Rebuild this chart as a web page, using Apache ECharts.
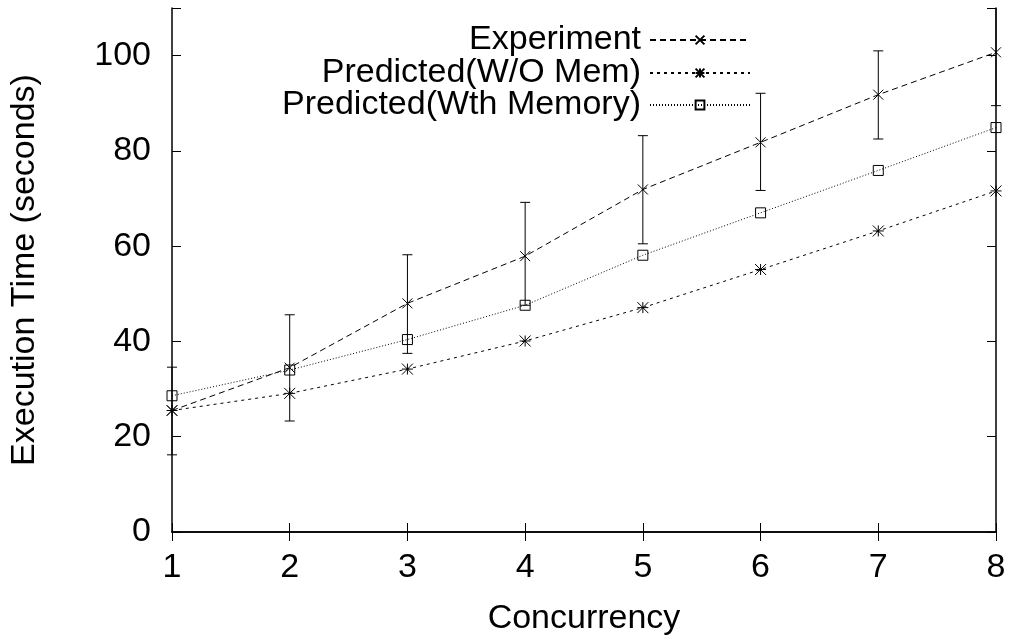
<!DOCTYPE html>
<html>
<head>
<meta charset="utf-8">
<script src="https://cdn.jsdelivr.net/npm/echarts@6/dist/echarts.min.js"></script>
<style>html,body{margin:0;padding:0;background:#fff}#c{width:1013px;height:641px}</style>
</head>
<body>
<div id="c"></div>
<script>
const concurrency = [1, 2, 3, 4, 5, 6, 7, 8];
const experiment = [25.5, 34.5, 48.0, 57.9, 71.9, 81.8, 91.8, 100.7];
const experimentLow = [16.2, 23.3, 37.5, 47.6, 60.5, 71.7, 82.5, 89.5];
const experimentHigh = [34.6, 45.6, 58.2, 69.2, 83.2, 92.1, 101.0, 111.9];
const predictedNoMem = [25.5, 29.1, 34.2, 40.1, 47.1, 55.1, 63.2, 71.6];
const predictedMem = [28.6, 34.0, 40.4, 47.6, 58.1, 67.0, 75.9, 84.9];
const seriesNames = ['Experiment', 'Predicted(W/O Mem)', 'Predicted(Wth Memory)'];
const yTicks = [0, 20, 40, 60, 80, 100];

const FONT = "'Liberation Sans', Arial, sans-serif";
const FS = 34;
const pairs = a => concurrency.map((x, i) => [x, a[i]]);
const xPath = 'path://M0,0L10,10M10,0L0,10';
const starPath = 'path://M0,0L10,10M10,0L0,10M5,0L5,10M0,5L10,5';

const chart = echarts.init(document.getElementById('c'));
const axisCommon = {
  type: 'value',
  axisLine: {show: true, lineStyle: {color: '#000', width: 1.5}},
  axisTick: {show: true, inside: true, length: 9, lineStyle: {color: '#000', width: 1}},
  splitLine: {show: false}
};
function legendFor(name, top) {
  return {
    data: [name], top: top, right: 257, orient: 'vertical', align: 'right',
    itemWidth: 100, itemHeight: 11, selectedMode: false,
    textStyle: {fontFamily: FONT, fontSize: FS, color: '#000', lineHeight: 32, padding: [0, 4, 0, 0]}
  };
}
chart.setOption({
  animation: false,
  backgroundColor: '#fff',
  grid: {left: 171, right: 17, top: 8, bottom: 109, containLabel: false},
  legend: [legendFor(seriesNames[0], 18), legendFor(seriesNames[1], 51), legendFor(seriesNames[2], 83)],
  xAxis: [
    Object.assign({}, axisCommon, {
      position: 'bottom', min: 1, max: 8, interval: 1,
      name: 'Concurrency', nameLocation: 'middle', nameGap: 70,
      nameTextStyle: {fontFamily: FONT, fontSize: FS, color: '#000'},
      axisLabel: {fontFamily: FONT, fontSize: FS, color: '#000', margin: 19}
    }),
    Object.assign({}, axisCommon, {
      position: 'top', min: 1, max: 8, interval: 1, axisLabel: {show: false}
    })
  ],
  yAxis: [
    Object.assign({}, axisCommon, {
      position: 'left', min: 0, max: 110, interval: 20,
      name: 'Execution Time (seconds)', nameLocation: 'middle', nameGap: 130,
      nameTextStyle: {fontFamily: FONT, fontSize: FS, color: '#000'},
      axisLabel: {fontFamily: FONT, fontSize: FS, color: '#000', margin: 21,
        formatter: v => yTicks.indexOf(v) >= 0 ? String(v) : ''}
    }),
    Object.assign({}, axisCommon, {
      position: 'right', min: 0, max: 110, interval: 20, axisLabel: {show: false}
    })
  ],
  series: [
    {
      name: seriesNames[0], type: 'line', data: pairs(experiment),
      symbol: xPath, symbolSize: 10,
      itemStyle: {color: '#000', borderColor: '#000', borderWidth: 1},
      lineStyle: {color: '#000', width: 1, type: [6, 4]}, z: 4
    },
    {
      name: seriesNames[1], type: 'line', data: pairs(predictedNoMem),
      symbol: starPath, symbolSize: 11,
      itemStyle: {color: '#000', borderColor: '#000', borderWidth: 1},
      lineStyle: {color: '#000', width: 1, type: [3, 4]}, z: 3
    },
    {
      name: seriesNames[2], type: 'line', data: pairs(predictedMem),
      symbol: 'rect', symbolSize: 10,
      itemStyle: {color: 'rgba(0,0,0,0)', borderColor: '#000', borderWidth: 1},
      lineStyle: {color: '#000', width: 1, type: [1, 2]}, z: 3
    },
    {
      type: 'custom', name: 'errorbars',
      data: concurrency.map((x, i) => [x, experimentLow[i], experimentHigh[i]]),
      renderItem: function (params, api) {
        const cs = params.coordSys;
        const x = api.coord([api.value(0), 0])[0];
        const yLo = api.coord([api.value(0), api.value(1)])[1];
        const yHi = api.coord([api.value(0), api.value(2)])[1];
        const top = cs.y, bot = cs.y + cs.height;
        const y1 = Math.max(yHi, top), y2 = Math.min(yLo, bot);
        const st = {stroke: '#000', lineWidth: 1};
        const ch = [{type: 'line', shape: {x1: x, y1: y1, x2: x, y2: y2}, style: st}];
        if (yHi >= top) ch.push({type: 'line', shape: {x1: x - 5, y1: yHi, x2: x + 5, y2: yHi}, style: st});
        if (yLo <= bot) ch.push({type: 'line', shape: {x1: x - 5, y1: yLo, x2: x + 5, y2: yLo}, style: st});
        return {type: 'group', children: ch};
      },
      z: 2, silent: true
    }
  ]
});
</script>
</body>
</html>
